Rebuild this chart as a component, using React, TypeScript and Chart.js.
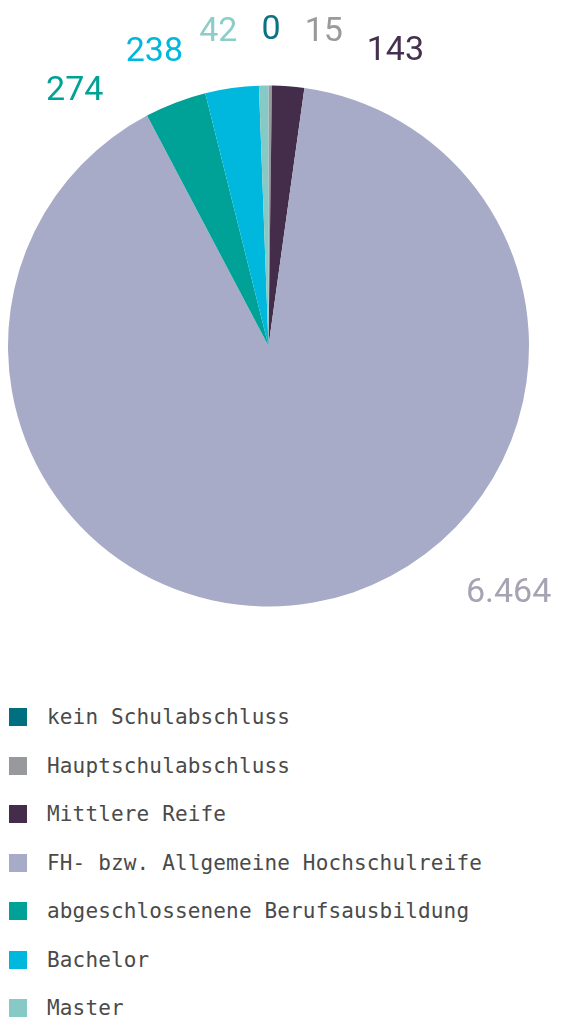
import React, { useEffect, useRef } from "react";
import { Chart, registerables } from "chart.js";

Chart.register(...registerables);

const categories = [
  "kein Schulabschluss",
  "Hauptschulabschluss",
  "Mittlere Reife",
  "FH- bzw. Allgemeine Hochschulreife",
  "abgeschlossenene Berufsausbildung",
  "Bachelor",
  "Master",
];
const values = [0, 15, 143, 6464, 274, 238, 42];
const sliceColors = ["#006f80", "#98999d", "#432d4b", "#a7abc7", "#00a196", "#00b8dd", "#87c9c4"];
const labelColors = ["#0a7282", "#9a9a9c", "#45304d", "#a8a3b4", "#00a296", "#00b8dd", "#8ccdc8"];
// label placement (degrees clockwise from top, extra distance beyond the pie's edge)
const labelAngles = [0.45, 9.9, 23.1, 135.4, -36.9, -21, -9];
const labelGaps = [58.5, 61, 63, 81.5, 62.3, 58, 60.5];

const fmt = (v: number) => String(v).replace(/\B(?=(\d{3})+(?!\d))/g, ".");

const labelPlugin = {
  id: "outerLabels",
  afterDraw(chart: any) {
    const meta = chart.getDatasetMeta(0);
    const ctx = chart.ctx;
    ctx.save();
    ctx.font = "400 34px Roboto";
    ctx.textAlign = "center";
    ctx.textBaseline = "alphabetic";
    meta.data.forEach((arc: any, i: number) => {
      const a = (labelAngles[i] * Math.PI) / 180;
      const d = arc.outerRadius + labelGaps[i];
      const x = arc.x + d * Math.sin(a);
      const y = arc.y - d * Math.cos(a);
      ctx.fillStyle = labelColors[i];
      ctx.fillText(fmt(values[i]), x, y + 12);
    });
    ctx.restore();
  },
};

export default function App() {
  const ref = useRef<HTMLCanvasElement | null>(null);
  useEffect(() => {
    if (!ref.current) return;
    const chart = new Chart(ref.current, {
      type: "pie",
      data: {
        labels: categories,
        datasets: [
          {
            data: values,
            backgroundColor: sliceColors,
            borderWidth: 0,
          },
        ],
      },
      options: {
        animation: false,
        responsive: false,
        maintainAspectRatio: false,
        layout: { padding: { left: 8, right: 33, top: 85, bottom: 73 } },
        plugins: {
          legend: { display: false },
          tooltip: { enabled: false },
        },
      },
      plugins: [labelPlugin],
    });
    return () => chart.destroy();
  }, []);

  return (
    <div style={{ position: "absolute", left: 0, top: 0, width: 562, height: 1017, background: "#fff", overflow: "hidden" }}>
      <canvas ref={ref} width={562} height={680} style={{ display: "block", width: 562, height: 680 }} />
      <div style={{ position: "absolute", left: 0, top: 708 }}>
        {categories.map((c, i) => (
          <div key={c} style={{ position: "absolute", left: 0, top: i * 48.5, height: 18, width: 560, whiteSpace: "nowrap" }}>
            <div style={{ position: "absolute", left: 9, top: 0, width: 18, height: 18, background: sliceColors[i] }} />
            <div
              style={{
                position: "absolute",
                left: 47,
                top: -3,
                lineHeight: "24px",
                fontFamily: "'DejaVu Sans Mono', monospace",
                fontSize: 21,
                letterSpacing: "0.15px",
                color: "#4a4a4a",
              }}
            >
              {c}
            </div>
          </div>
        ))}
      </div>
    </div>
  );
}
